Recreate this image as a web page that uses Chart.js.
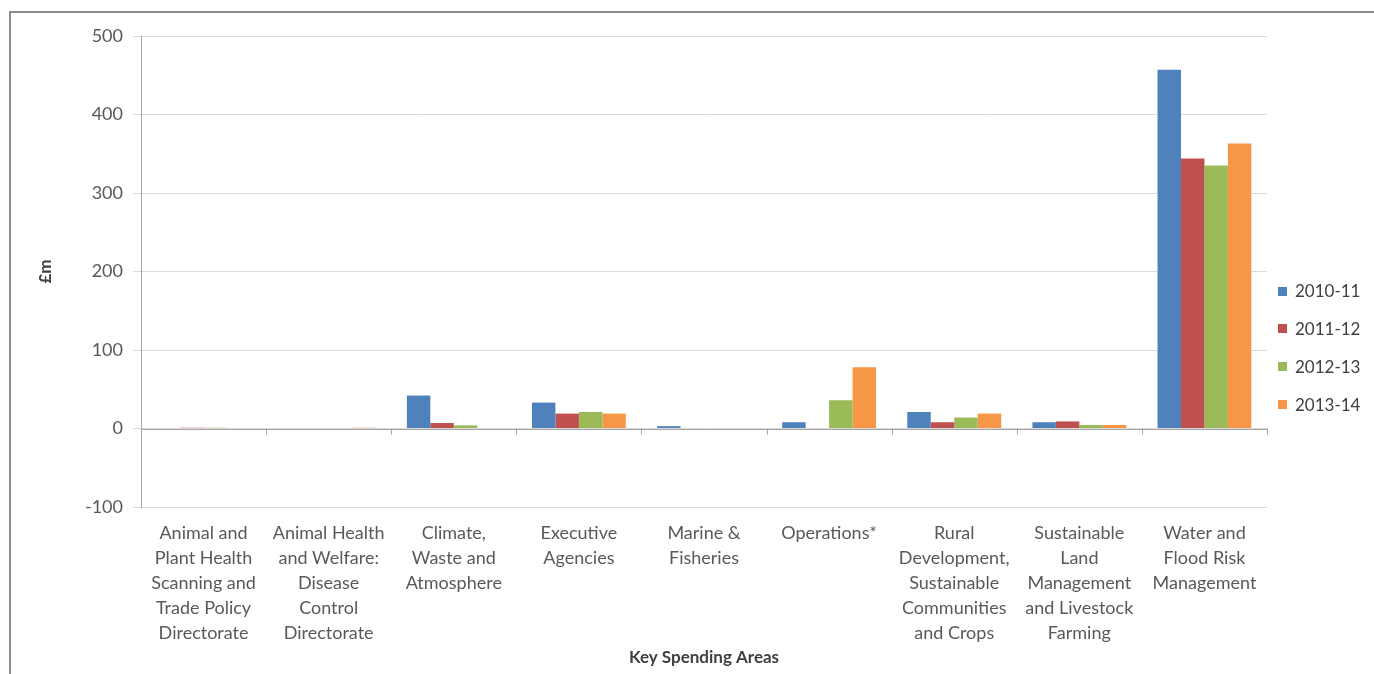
<!DOCTYPE html>
<html>
<head>
<meta charset="utf-8">
<script src="https://cdn.jsdelivr.net/npm/chart.js@4/dist/chart.umd.min.js"></script>
<style>
    html, body { margin: 0; padding: 0; background: #fff; }
    #wrap { width: 1374px; height: 674px; position: relative; }
</style>
</head>
<body>
<div id="wrap"><canvas id="spendChart"></canvas></div>
<script>
// --- Data ---
const areas = [
    ['Animal and', 'Plant Health', 'Scanning and', 'Trade Policy', 'Directorate'],
    ['Animal Health', 'and Welfare:', 'Disease', 'Control', 'Directorate'],
    ['Climate,', 'Waste and', 'Atmosphere'],
    ['Executive', 'Agencies'],
    ['Marine &', 'Fisheries'],
    ['Operations*'],
    ['Rural', 'Development,', 'Sustainable', 'Communities', 'and Crops'],
    ['Sustainable', 'Land', 'Management', 'and Livestock', 'Farming'],
    ['Water and', 'Flood Risk', 'Management']
];
const years = ['2010-11', '2011-12', '2012-13', '2013-14'];
const spend2010 = [0, 0, 42, 33, 3, 8, 21, 8, 457];
const spend2011 = [1, 0, 7, 19, 0, 0, 8, 9, 344];
const spend2012 = [1, 0, 4, 21, 0, 36, 14, 4.5, 335];
const spend2013 = [0, 1, 0, 19, 0, 78, 19, 4.5, 363];
const yTicks = [-100, 0, 100, 200, 300, 400, 500];

const seriesColors = ['#4F81BD', '#C0504D', '#9BBB59', '#F79646'];
const labelColor = '#595959';
const gridColor = '#d9d9d9';
const fontFamily = "Lato, 'Open Sans', sans-serif";

// Frame on top/left edges plus little tick marks where the category axis crosses zero
const framePlugin = {
    id: 'framePlugin',
    beforeDraw(chart) {
        const ctx = chart.ctx;
        ctx.save();
        ctx.strokeStyle = '#8c8c8c';
        ctx.lineWidth = 2;
        ctx.beginPath();
        ctx.moveTo(10, 674);
        ctx.lineTo(10, 12);
        ctx.lineTo(1374, 12);
        ctx.stroke();
        ctx.restore();
    },
    afterDatasetsDraw(chart) {
        const ctx = chart.ctx;
        const x = chart.scales.x;
        const y0 = chart.scales.y.getPixelForValue(0);
        const n = areas.length;
        const step = (x.right - x.left) / n;
        ctx.save();
        ctx.strokeStyle = '#a6a6a6';
        ctx.lineWidth = 1;
        ctx.beginPath();
        ctx.moveTo(x.left, Math.round(y0) + 0.5);
        ctx.lineTo(x.right, Math.round(y0) + 0.5);
        for (let i = 1; i <= n; i++) {
            const px = Math.round(x.left + step * i) + 0.5;
            ctx.moveTo(px, y0);
            ctx.lineTo(px, y0 + 6);
        }
        ctx.stroke();
        ctx.restore();
    }
};

// Series key to the right of the plot
const keyPlugin = {
    id: 'keyPlugin',
    afterDraw(chart) {
        const ctx = chart.ctx;
        const boxX = chart.chartArea.right + 11;
        const rowGap = 37.7;
        const firstRow = 291;
        ctx.save();
        ctx.font = '17px ' + fontFamily;
        ctx.textBaseline = 'middle';
        ctx.fillStyle = '#404040';
        years.forEach((yr, i) => {
            const cy = firstRow + rowGap * i;
            ctx.fillStyle = seriesColors[i];
            ctx.fillRect(boxX, Math.round(cy - 4.5), 9, 9);
            ctx.fillStyle = '#404040';
            ctx.fillText(yr, boxX + 17, cy + 1);
        });
        ctx.restore();
    }
};

const spendData = [spend2010, spend2011, spend2012, spend2013];

new Chart(document.getElementById('spendChart'), {
    type: 'bar',
    data: {
        labels: areas,
        datasets: years.map((yr, i) => ({
            label: yr,
            data: spendData[i],
            backgroundColor: seriesColors[i],
            borderWidth: 0,
            categoryPercentage: 0.75,
            barPercentage: 1
        }))
    },
    options: {
        responsive: true,
        maintainAspectRatio: false,
        animation: false,
        layout: { padding: { left: 31, right: 107, top: 36, bottom: 6 } },
        plugins: {
            tooltip: { enabled: false },
            legend: { display: false }
        },
        scales: {
            x: {
                grid: { display: false, drawTicks: false },
                border: { display: false },
                afterFit(scale) {
                    scale.height = 674 - 6 - 507;
                },
                ticks: {
                    color: labelColor,
                    padding: 14,
                    maxRotation: 0,
                    autoSkip: false,
                    font: { family: fontFamily, size: 18, lineHeight: 1.39 }
                },
                title: {
                    display: true,
                    text: 'Key Spending Areas',
                    color: '#404040',
                    font: { family: fontFamily, size: 17, weight: 'bold' },
                    padding: { top: 2, bottom: 0 }
                }
            },
            y: {
                min: -100,
                max: 500,
                afterBuildTicks(scale) {
                    scale.ticks = yTicks.map(v => ({ value: v }));
                },
                afterFit(scale) {
                    scale.width = 110;
                },
                grid: {
                    color: gridColor,
                    tickLength: 8,
                    tickColor: gridColor
                },
                border: { color: '#a6a6a6' },
                ticks: {
                    color: labelColor,
                    padding: 10,
                    font: { family: fontFamily, size: 18 }
                },
                title: {
                    display: true,
                    text: '£m',
                    color: '#404040',
                    font: { family: fontFamily, size: 17, weight: 'bold' }
                }
            }
        }
    },
    plugins: [framePlugin, keyPlugin]
});
</script>
</body>
</html>
